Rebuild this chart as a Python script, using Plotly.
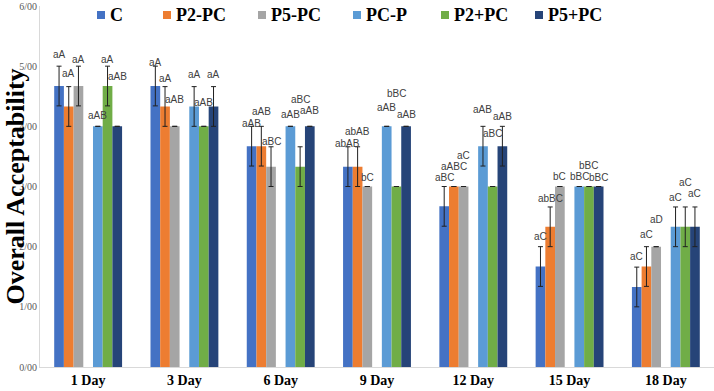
import plotly.graph_objects as go

days = ["1 Day", "3 Day", "6 Day", "9 Day", "12 Day", "15 Day", "18 Day"]
series_names = ["C", "P2-PC", "P5-PC", "PC-P", "P2+PC", "P5+PC"]

C_vals     = [4.67, 4.67, 3.67, 3.33, 2.67, 1.67, 1.33]
P2PC_vals  = [4.33, 4.33, 3.67, 3.33, 3.00, 2.33, 1.67]
P5PC_vals  = [4.67, 4.00, 3.33, 3.00, 3.00, 3.00, 2.00]
PCP_vals   = [4.00, 4.33, 4.00, 4.00, 3.67, 3.00, 2.33]
P2pPC_vals = [4.67, 4.00, 3.33, 3.00, 3.00, 3.00, 2.33]
P5pPC_vals = [4.00, 4.33, 4.00, 4.00, 3.67, 3.00, 2.33]

C_err     = [0.33, 0.33, 0.33, 0.33, 0.33, 0.33, 0.33]
P2PC_err  = [0.33, 0.33, 0.33, 0.33, 0.00, 0.33, 0.33]
P5PC_err  = [0.33, 0.00, 0.33, 0.00, 0.00, 0.00, 0.00]
PCP_err   = [0.00, 0.33, 0.00, 0.00, 0.33, 0.00, 0.33]
P2pPC_err = [0.33, 0.00, 0.33, 0.00, 0.00, 0.00, 0.33]
P5pPC_err = [0.00, 0.33, 0.00, 0.00, 0.33, 0.00, 0.33]

C_lbl     = ["aA", "aA", "aAB", "abAB", "aBC", "aC", "aC"]
P2PC_lbl  = ["aA", "aA", "aAB", "abAB", "aABC", "abBC", "aC"]
P5PC_lbl  = ["aA", "aAB", "aBC", "bC", "aC", "bC", "aD"]
PCP_lbl   = ["aAB", "aA", "aAB", "aAB", "aAB", "bBC", "aC"]
P2pPC_lbl = ["aA", "aAB", "aBC", "bBC", "aBC", "bBC", "aC"]
P5pPC_lbl = ["aAB", "aA", "aAB", "aAB", "aAB", "bBC", "aC"]

y_tick_vals = [0, 1, 2, 3, 4, 5, 6]
y_tick_text = ["0/00", "1/00", "2/00", "3/00", "4/00", "5/00", "6/00"]

values = [C_vals, P2PC_vals, P5PC_vals, PCP_vals, P2pPC_vals, P5pPC_vals]
errors = [C_err, P2PC_err, P5PC_err, PCP_err, P2pPC_err, P5pPC_err]
labels = [C_lbl, P2PC_lbl, P5PC_lbl, PCP_lbl, P2pPC_lbl, P5pPC_lbl]

# ---- styling ----
colors = ["#4472C4", "#ED7D31", "#A5A5A5", "#5B9BD5", "#70AD47", "#264478"]
slots = [0, 1, 2, 4, 5, 6]  # slot 3 is an empty gap
W, H = 714, 391
ML, MR, MT, MB = 40, 0, 6, 24
BARGAP = 0.295
NSLOT = 7
PW, PH = W - ML - MR, H - MT - MB
cat_px = PW / len(days)
bar_px = cat_px * (1 - BARGAP) / NSLOT
# label lift above error-bar top (px), per day per series (manual placement)
label_lift = [
    [12, 13, 7, 11, 7, 50],
    [4, 8, 27, 12, 24, 12],
    [3, 15, 5, 12, 47, 16],
    [3, 15, 9, 19, 93, 12],
    [9, 20, 31, 17, 53, 10],
    [10, 8, 10, 10, 21, 9],
    [11, 12, 27, 9, 24, 13],
]
# custom legend layout (pixel positions of legend squares, left edge)
legend_sq_px = [97, 163, 258, 353, 441, 535]
legend_y_px = 15
SQ = 8

fig = go.Figure()
trace_order = [0, 1, 2, None, 3, 4, 5]
for idx in trace_order:
    if idx is None:
        fig.add_trace(go.Bar(x=days, y=[None] * len(days), name="", showlegend=False,
                             hoverinfo="skip", marker_color="rgba(0,0,0,0)"))
        continue
    fig.add_trace(go.Bar(
        x=days, y=values[idx], name=series_names[idx], showlegend=False,
        marker=dict(color=colors[idx], line=dict(width=0)),
        error_y=dict(type="data", array=errors[idx], visible=True,
                     color="#202020", thickness=1, width=2.5),
    ))

annotations = []
for s in range(len(series_names)):
    for d in range(len(days)):
        top = values[s][d] + errors[s][d]
        annotations.append(dict(
            x=days[d], y=top, xref="x", yref="y", text=labels[s][d],
            showarrow=False, xanchor="center", yanchor="middle",
            xshift=(slots[s] - (NSLOT - 1) / 2) * bar_px,
            yshift=label_lift[d][s],
            font=dict(family="Liberation Sans", size=10, color="#404040"),
        ))

shapes = []
ly = 1 - (legend_y_px - MT) / PH
for s, name in enumerate(series_names):
    x0 = (legend_sq_px[s] - ML) / PW
    x1 = (legend_sq_px[s] + SQ - ML) / PW
    shapes.append(dict(type="rect", xref="paper", yref="paper",
                       x0=x0, x1=x1, y0=ly - SQ / 2 / PH, y1=ly + SQ / 2 / PH,
                       fillcolor=colors[s], line=dict(width=0)))
    annotations.append(dict(
        x=x1, y=ly, xref="paper", yref="paper", text="<b>" + name + "</b>",
        showarrow=False, xanchor="left", yanchor="middle", xshift=3,
        font=dict(family="Liberation Serif", size=18, color="#000000"),
    ))

annotations.append(dict(
    x=0, y=0.5, xref="paper", yref="paper", text="<b>Overall Acceptability</b>",
    textangle=-90, showarrow=False, xanchor="center", yanchor="middle",
    xshift=-ML + 15,
    font=dict(family="Liberation Serif", size=26, color="#000000"),
))

fig.update_layout(
    width=W, height=H,
    margin=dict(l=ML, r=MR, t=MT, b=MB),
    barmode="group", bargap=BARGAP, bargroupgap=0,
    plot_bgcolor="white", paper_bgcolor="white",
    showlegend=False,
    annotations=annotations,
    shapes=shapes,
    xaxis=dict(showline=True, linecolor="#D9D9D9", linewidth=1, ticks="",
               showgrid=False,
               tickfont=dict(family="Liberation Serif", size=14, color="#000000", weight="bold")),
    yaxis=dict(range=[0, 6], tickvals=y_tick_vals, ticktext=y_tick_text,
               showline=True, linecolor="#D9D9D9", linewidth=1, ticks="",
               showgrid=False, zeroline=False,
               tickfont=dict(family="Liberation Serif", size=10, color="#595959")),
)

fig.write_html("out.html")
